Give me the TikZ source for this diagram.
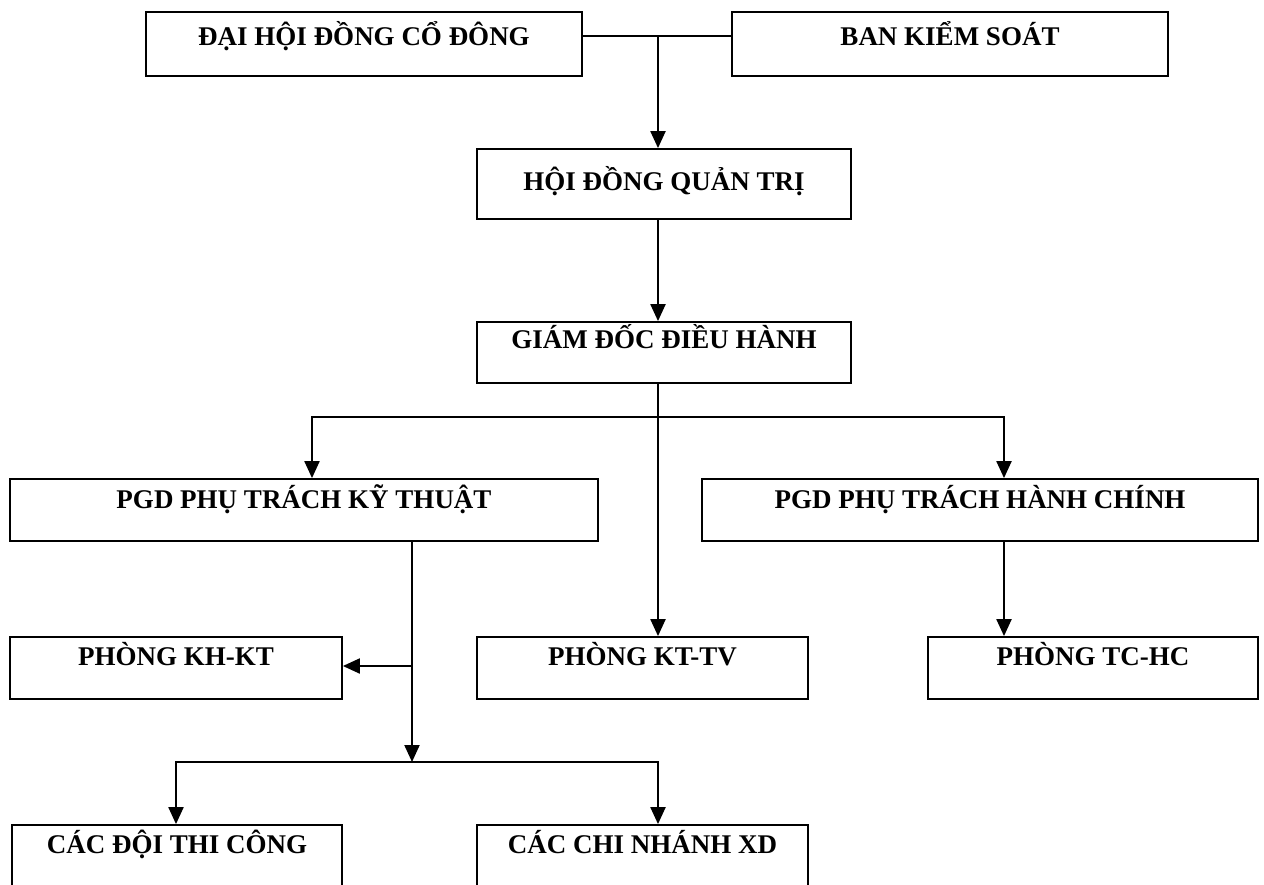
\documentclass[tikz,border=0pt]{standalone}
\usepackage{fontspec}
\setmainfont{Liberation Serif}
\usetikzlibrary{arrows.meta}

\begin{document}
\begin{tikzpicture}[x=1pt, y=-1pt,
  box/.style={draw, line width=1.8pt, inner sep=0pt, text height=18pt,
    text depth=#1, font=\bfseries\fontsize{27}{31}\selectfont},
  link/.style={line width=1.4pt},
  arr/.style={line width=2.1pt, -{Triangle[length=17pt,width=15pt]}},
  arrs/.style={line width=2.1pt,
    {Triangle[length=17pt,width=15pt]}-{Triangle[length=17pt,width=15pt]}}]
\useasboundingbox (0,0) rectangle (1264,884);
% --- Top level ---
\node[box=16pt, minimum width=436pt, minimum height=64pt] (dhdcd) at (364,44)
  {ĐẠI HỘI ĐỒNG CỔ ĐÔNG};
\node[box=16pt, minimum width=436pt, minimum height=64pt] (bks) at (950,44)
  {BAN KIỂM SOÁT};
\node[box=6pt, minimum width=374pt, minimum height=70pt] (hdqt) at (664,184)
  {HỘI ĐỒNG QUẢN TRỊ};
\node[box=27pt, minimum width=374pt, minimum height=61pt] (gddh) at (664,352.5)
  {GIÁM ĐỐC ĐIỀU HÀNH};
% --- Deputy directors ---
\node[box=22pt, minimum width=588pt, minimum height=62pt] (pgdkt) at (304,510)
  {PGD PHỤ TRÁCH KỸ THUẬT};
\node[box=22pt, minimum width=556pt, minimum height=62pt] (pgdhc) at (980,510)
  {PGD PHỤ TRÁCH HÀNH CHÍNH};
% --- Departments ---
\node[box=24pt, minimum width=332pt, minimum height=62pt] (khkt) at (176,668)
  {PHÒNG KH-KT};
\node[box=24pt, minimum width=331pt, minimum height=62pt] (kttv) at (642.5,668)
  {PHÒNG KT-TV};
\node[box=24pt, minimum width=330pt, minimum height=62pt] (tchc) at (1093,668)
  {PHÒNG TC-HC};
% Bottom row (cut by the page edge)
\node[box=32pt, minimum width=330pt, minimum height=70pt] (doitc) at (177,860)
  {CÁC ĐỘI THI CÔNG};
\node[box=32pt, minimum width=331pt, minimum height=70pt] (cnxd) at (642.5,860)
  {CÁC CHI NHÁNH XD};
% --- Junction points ---
\coordinate (jn) at (658,36);
\coordinate (bl) at (312,417);
\coordinate (br) at (1004,417);
\coordinate (kt) at (412,666);
\coordinate (bd) at (176,762);
\coordinate (bc) at (658,762);
% --- Connectors ---
\draw[link] (dhdcd.east |- jn) -- (bks.west |- jn);
\draw[arr] (jn) -- (jn |- hdqt.north);
\draw[arr] (jn |- hdqt.south) -- (jn |- gddh.north);
\draw[arr] (jn |- gddh.south) -- (jn |- kttv.north);
\draw[arrs] (bl |- pgdkt.north) -- (bl) -- (br) -- (br |- pgdhc.north);
\draw[arr] (br |- pgdhc.south) -- (br |- tchc.north);
\draw[arr] (kt |- pgdkt.south) -- (kt |- bd);
\draw[arr] (kt) -- (khkt.east |- kt);
\draw[arrs] (bd |- doitc.north) -- (bd) -- (bc) -- (bc |- cnxd.north);
\end{tikzpicture}
\end{document}
